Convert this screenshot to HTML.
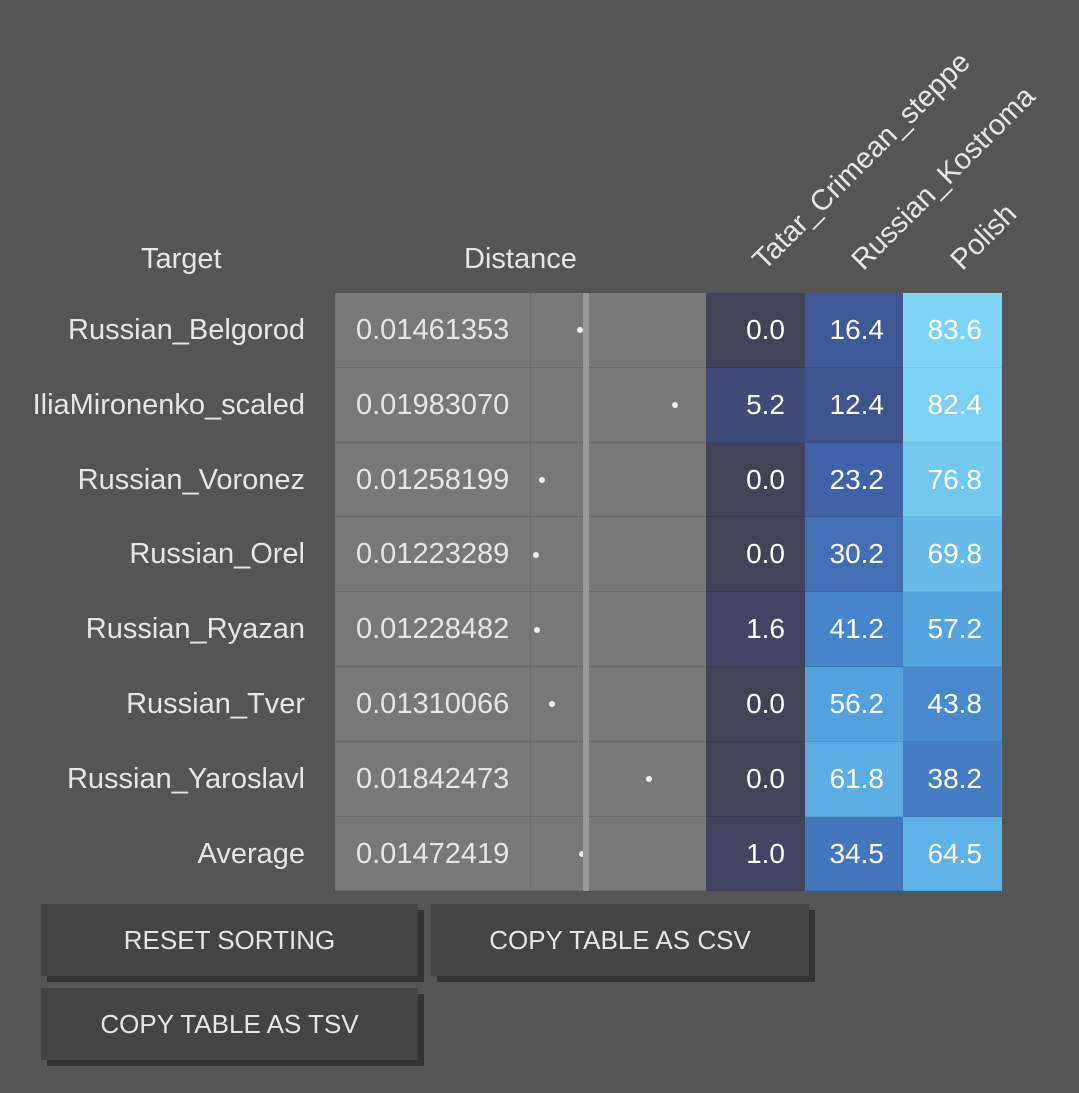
<!DOCTYPE html>
<html><head><meta charset="utf-8"><style>
body{margin:0;background:#555;width:1079px;height:1093px;overflow:hidden;font-family:"Liberation Sans",sans-serif;color:#e6e6e6;position:relative}
.abs{position:absolute}
.lbl{position:absolute;right:774px;font-size:29px;text-align:right;white-space:nowrap}
.dist{position:absolute;left:335px;width:195px;background:#787878;font-size:29px;padding-left:21px;box-sizing:border-box;border-bottom:1px solid #6a6a6a}
.dot{position:absolute;left:530px;width:176px;background:#787878;border-left:1px solid #6c6c6c;box-sizing:border-box;border-bottom:1px solid #6a6a6a}
.hc{position:absolute;width:99px;font-size:28px;text-align:right;padding-right:20px;box-sizing:border-box;color:#fff;border-bottom:1px solid rgba(0,0,0,0.08)}
.btn{position:absolute;background:#444;box-shadow:6px 6px 0 #333;font-size:26px;text-align:center;line-height:72px;color:#e6e6e6}
.hdr{position:absolute;font-size:29px;white-space:nowrap;transform-origin:0 100%;transform:rotate(-45deg)}
</style></head><body>
<div class="abs" style="left:141px;top:243px;font-size:29px">Target</div>
<div class="abs" style="left:464px;top:243px;font-size:29px">Distance</div>
<div class="hdr" style="left:770px;top:244px">Tatar_Crimean_steppe</div>
<div class="hdr" style="left:869px;top:244px">Russian_Kostroma</div>
<div class="hdr" style="left:968px;top:244px">Polish</div>
<div id="tbl"></div>
<div class="btn" style="left:41px;top:904px;width:377px;height:72px">RESET SORTING</div>
<div class="btn" style="left:431px;top:904px;width:378px;height:72px">COPY TABLE AS CSV</div>
<div class="btn" style="left:41px;top:988px;width:377px;height:72px">COPY TABLE AS TSV</div>
<script>
const targets=["Russian_Belgorod","IliaMironenko_scaled","Russian_Voronez","Russian_Orel","Russian_Ryazan","Russian_Tver","Russian_Yaroslavl","Average"];
const distances=[0.01461353,0.01983070,0.01258199,0.01223289,0.01228482,0.01310066,0.01842473,0.01472419];
const tatar=[0.0,5.2,0.0,0.0,1.6,0.0,0.0,1.0];
const kostroma=[16.4,12.4,23.2,30.2,41.2,56.2,61.8,34.5];
const polish=[83.6,82.4,76.8,69.8,57.2,43.8,38.2,64.5];
const top0=293,rowH=74.8;
const xd=v=>536+(v-0.01223289)*18295;
const stops=[[0,[66,66,88]],[6,[62,78,124]],[20,[64,92,160]],[40,[68,128,200]],[60,[88,170,226]],[85,[128,214,245]],[100,[140,225,250]]];
function col(v){for(let i=1;i<stops.length;i++){if(v<=stops[i][0]){const [a,ca]=stops[i-1],[b,cb]=stops[i];const t=(v-a)/(b-a);return 'rgb('+ca.map((c,j)=>Math.round(c+(cb[j]-c)*t)).join(',')+')';}}return 'rgb(140,225,250)';}
const tb=document.getElementById('tbl');
function mk(cls,st,txt){const d=document.createElement('div');d.className=cls;d.style.cssText=st;if(txt!==undefined)d.textContent=txt;tb.appendChild(d);return d;}
targets.forEach((t,i)=>{
 const y=top0+i*rowH,h='top:'+y+'px;height:'+rowH+'px;line-height:'+rowH+'px;';
 let e=mk('lbl',h,t);
 
 
 e=mk('dist',h,distances[i].toFixed(8));
 
 
 e=mk('dot',h);
 
 
 e=mk('abs','left:'+(xd(distances[i])-3)+'px;top:'+(y+rowH/2-3)+'px;width:6px;height:6px;border-radius:50%;background:#eee');
 
 
 [[tatar,706],[kostroma,805],[polish,903]].forEach(([arr,x])=>{
  e=mk('hc',h+'left:'+x+'px;background:'+col(arr[i]),arr[i].toFixed(1));
  
  
 });
});
const ln=mk('abs','left:'+(xd(distances[7])+1)+'px;top:'+top0+'px;width:6px;height:'+(rowH*8)+'px;background:#9a9a9a');


</script>
</body></html>
